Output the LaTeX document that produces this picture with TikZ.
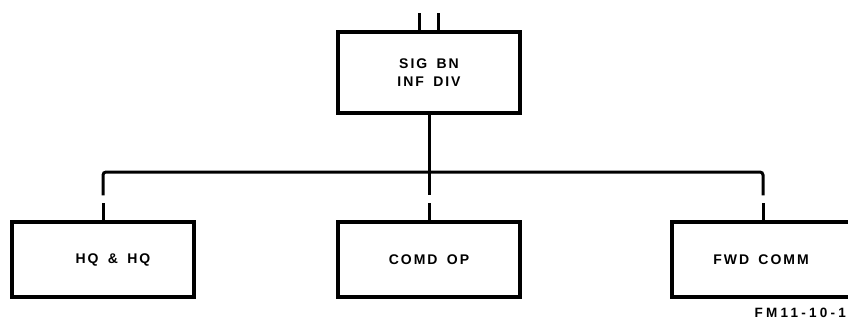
\documentclass[tikz,border=0pt]{standalone}
\usepackage{fontspec}
\newfontfamily\lab{Liberation Sans}[LetterSpace=14,WordSpace=1.6]
\newfontfamily\figlab{Liberation Sans}[LetterSpace=24]
\begin{document}
\begin{tikzpicture}[x=1pt,y=-1pt,
  unit/.style={draw,line width=3.2pt,minimum width=182pt,minimum height=75pt,inner sep=0pt,font=\lab\bfseries\fontsize{14}{18}\selectfont,align=center},
  wire/.style={line width=3pt}]
\clip (0,0) rectangle (848,327);
\node[unit,minimum height=81pt] (sig) at (429,72.5) {SIG BN\\INF DIV};
\node[unit] (hq) at (103,259.5) {\hspace*{20pt}HQ \& HQ};
\node[unit] (comd) at (429,259.5) {COMD OP};
\node[unit] (fwd) at (763,259.5) {FWD COMM\hspace*{4pt}};
\node[font=\figlab\bfseries\fontsize{13.5}{15}\selectfont,anchor=east,inner sep=0pt] (fig) at (846,313) {FM11-10-1};
% top feeder lines
\coordinate (t1) at ([xshift=-10pt,yshift=17pt]sig.north);
\coordinate (t2) at ([xshift=9pt,yshift=17pt]sig.north);
\draw[wire] (t1) -- (t1 |- sig.north);
\draw[wire] (t2) -- (t2 |- sig.north);
% bus
\coordinate (busy) at (0,172);
\coordinate (bL) at (hq.north |- busy);
\coordinate (bM) at (comd.north |- busy);
\coordinate (bR) at (fwd.north |- busy);
\coordinate (gL) at ([yshift=25pt]hq.north);
\coordinate (gM) at ([yshift=25pt]comd.north);
\coordinate (gR) at ([yshift=25pt]fwd.north);
\draw[wire,rounded corners=3pt] (gL) -- (bL) -- (bR) -- (gR);
\draw[wire] (sig.south) -- (bM) -- (gM);
\draw[wire] (hq.north) -- ++(0,-17);
\draw[wire] (comd.north) -- ++(0,-17);
\draw[wire] (fwd.north) -- ++(0,-17);
\end{tikzpicture}
\end{document}
